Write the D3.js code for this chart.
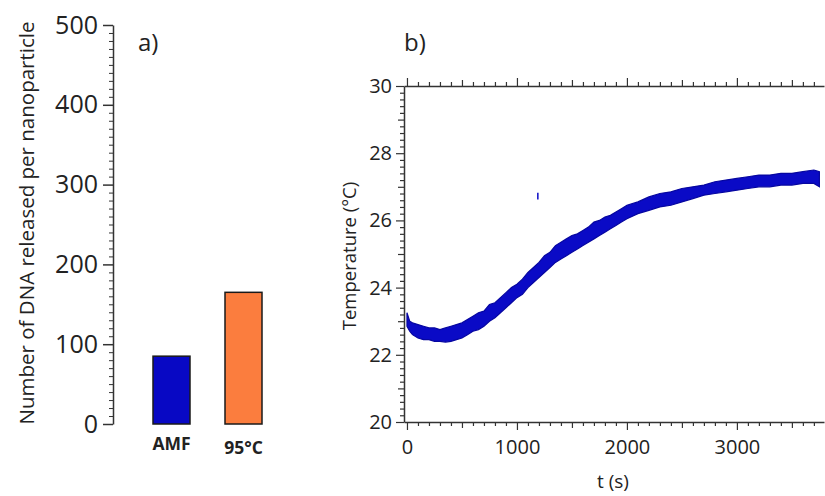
<!DOCTYPE html>
<html>
<head>
<meta charset="utf-8">
<script src="https://cdn.jsdelivr.net/npm/d3@7"></script>
<style>
  html, body { margin: 0; padding: 0; background: #fff; }
  svg { display: block; font-family: "Open Sans", "Noto Sans", sans-serif; }
</style>
</head>
<body>
<svg id="chart" width="825" height="496"></svg>
<script>
// ---- panel a: DNA released per nanoparticle ----
const barCategories = ["AMF", "95°C"];
const barValues = [85, 165];
const barColors = ["#0808c4", "#fb7d3e"];
const barTicks = [0, 100, 200, 300, 400, 500];

// ---- panel b: temperature trace (band readings, °C) ----
const timeS = [0, 25, 50, 100, 150, 200, 250, 300, 350, 400, 450, 500, 550, 600, 650, 700, 750, 800, 850, 900,
  950, 1000, 1050, 1100, 1150, 1200, 1250, 1300, 1350, 1400, 1450, 1500, 1550, 1600, 1650, 1700, 1750, 1800,
  1850, 1900, 1950, 2000, 2100, 2200, 2300, 2400, 2500, 2600, 2700, 2800, 2900, 3000, 3100, 3200, 3300, 3400,
  3500, 3600, 3700, 3750];
const tempLow = [22.85, 22.7, 22.6, 22.5, 22.45, 22.45, 22.4, 22.4, 22.38, 22.4, 22.45, 22.5, 22.6, 22.7, 22.75,
  22.85, 23.0, 23.1, 23.25, 23.4, 23.55, 23.7, 23.8, 24.0, 24.15, 24.3, 24.45, 24.6, 24.75, 24.85, 24.95, 25.05,
  25.15, 25.25, 25.35, 25.45, 25.55, 25.65, 25.75, 25.85, 25.95, 26.05, 26.2, 26.3, 26.4, 26.45, 26.55, 26.65,
  26.75, 26.8, 26.85, 26.9, 26.95, 27.0, 27.0, 27.05, 27.05, 27.1, 27.1, 27.0];
const tempHigh = [23.25, 23.0, 22.95, 22.9, 22.85, 22.8, 22.8, 22.75, 22.8, 22.85, 22.9, 22.95, 23.05, 23.15, 23.25,
  23.3, 23.5, 23.55, 23.7, 23.85, 24.0, 24.1, 24.25, 24.45, 24.6, 24.75, 24.95, 25.05, 25.25, 25.35, 25.45, 25.55,
  25.6, 25.7, 25.8, 25.95, 26.0, 26.1, 26.15, 26.25, 26.35, 26.45, 26.55, 26.7, 26.8, 26.85, 26.95, 27.0, 27.05,
  27.15, 27.2, 27.25, 27.3, 27.35, 27.35, 27.4, 27.4, 27.45, 27.5, 27.45];
const strayTime = [1190];
const strayLow = [26.62];
const strayHigh = [26.82];
const tempTicks = [20, 22, 24, 26, 28, 30];
const timeTicks = [0, 1000, 2000, 3000];

const svg = d3.select("#chart");
const ink = "#333";
const blue = "#0a0ac6";

// ---------- panel a ----------
const yA = d3.scaleLinear().domain([0, 500]).range([424, 25]);
const axisAx = 113;

const gA = svg.append("g");
// minor ticks every 10
gA.append("g").attr("transform", `translate(${axisAx},0)`)
  .call(d3.axisLeft(yA).tickValues(d3.range(0, 501, 10).filter(v => v % 100)).tickSize(4).tickFormat(""))
  .call(g => g.select(".domain").remove())
  .call(g => g.selectAll("line").attr("stroke", ink).attr("stroke-width", 1));
gA.append("g").attr("transform", `translate(${axisAx},0)`)
  .call(d3.axisLeft(yA).tickValues(barTicks).tickSize(10).tickPadding(5).tickSizeOuter(0))
  .call(g => g.select(".domain").attr("stroke", ink).attr("stroke-width", 1.5))
  .call(g => g.selectAll("line").attr("stroke", ink).attr("stroke-width", 1.5))
  .call(g => g.selectAll("text").attr("font-size", 25).attr("fill", "#222")
    .attr("font-family", "'Open Sans', sans-serif"));

const barW = 37;
const barX = [153, 225];
gA.selectAll("rect.bar").data(barValues).join("rect")
  .attr("class", "bar")
  .attr("x", (d, i) => barX[i])
  .attr("width", barW)
  .attr("y", d => yA(d))
  .attr("height", d => yA(0) - yA(d))
  .attr("fill", (d, i) => barColors[i])
  .attr("stroke", "#1a1a1a").attr("stroke-width", 1.5);

gA.selectAll("text.cat").data(barCategories).join("text")
  .attr("class", "cat")
  .attr("x", (d, i) => barX[i] + barW / 2)
  .attr("y", (d, i) => i === 0 ? 450 : 454)
  .attr("text-anchor", "middle")
  .attr("font-weight", "bold").attr("font-size", 17.5).attr("fill", "#222")
  .text(d => d);

svg.append("text")
  .attr("transform", "translate(34,223) rotate(-90)")
  .attr("text-anchor", "middle").attr("font-size", 20.5).attr("fill", "#222")
  .text("Number of DNA released per nanoparticle");

svg.append("text").attr("x", 138).attr("y", 51).attr("font-size", 24).attr("fill", "#222").text("a)");

// ---------- panel b ----------
const xB = d3.scaleLinear().domain([-27, 3792]).range([404, 824]);
const yB = d3.scaleLinear().domain([20, 30]).range([422, 86]);
const gB = svg.append("g");

const styleAxis = g => {
  g.select(".domain").attr("stroke", ink).attr("stroke-width", 1.5);
  g.selectAll("line").attr("stroke", ink).attr("stroke-width", 1.2);
};

const minorT = d3.range(100, 3800, 100).filter(v => v % 500);
const midT = d3.range(500, 3800, 500).filter(v => v % 1000);
[["bottom", yB(20), d3.axisBottom], ["top", yB(30), d3.axisTop]].forEach(([side, yPos, ax]) => {
  gB.append("g").attr("transform", `translate(0,${yPos})`)
    .call(ax(xB).tickValues(minorT).tickSize(4).tickFormat("").tickSizeOuter(0)).call(styleAxis);
  gB.append("g").attr("transform", `translate(0,${yPos})`)
    .call(ax(xB).tickValues(midT).tickSize(6).tickFormat("").tickSizeOuter(0))
    .call(g => g.select(".domain").remove()).call(styleAxis);
  const maj = gB.append("g").attr("transform", `translate(0,${yPos})`)
    .call(ax(xB).tickValues(timeTicks).tickSize(8).tickPadding(10).tickSizeOuter(0)
      .tickFormat(side === "bottom" ? d3.format("d") : ""))
    .call(g => g.select(".domain").remove()).call(styleAxis);
  maj.selectAll("text").attr("font-size", 20).attr("fill", "#222").attr("font-family", "'Open Sans', sans-serif");
});

const minorY = d3.range(20.2, 30, 0.2).map(v => +v.toFixed(1)).filter(v => Math.abs(v - Math.round(v)) > 1e-6);
const midY = [21, 23, 25, 27, 29];
gB.append("g").attr("transform", `translate(${xB.range()[0]},0)`)
  .call(d3.axisLeft(yB).tickValues(minorY).tickSize(4).tickFormat("").tickSizeOuter(0)).call(styleAxis);
gB.append("g").attr("transform", `translate(${xB.range()[0]},0)`)
  .call(d3.axisLeft(yB).tickValues(midY).tickSize(6).tickFormat("").tickSizeOuter(0))
  .call(g => g.select(".domain").remove()).call(styleAxis);
gB.append("g").attr("transform", `translate(${xB.range()[0]},0)`)
  .call(d3.axisLeft(yB).tickValues(tempTicks).tickSize(8).tickPadding(4).tickSizeOuter(0))
  .call(g => g.select(".domain").remove()).call(styleAxis)
  .call(g => g.selectAll("text").attr("font-size", 20).attr("fill", "#222")
    .attr("font-family", "'Open Sans', sans-serif"));

// temperature band
const rows = timeS.map((t, i) => ({ t, lo: tempLow[i], hi: tempHigh[i] }));
gB.append("path").datum(rows)
  .attr("d", d3.area().x(d => xB(d.t)).y0(d => yB(d.lo)).y1(d => yB(d.hi)))
  .attr("fill", blue).attr("stroke", "#0606a0").attr("stroke-width", 1.2);
gB.selectAll("line.stray").data(strayTime).join("line")
  .attr("class", "stray")
  .attr("x1", d => xB(d)).attr("x2", d => xB(d))
  .attr("y1", (d, i) => yB(strayLow[i])).attr("y2", (d, i) => yB(strayHigh[i]))
  .attr("stroke", blue).attr("stroke-width", 1.5);

svg.append("text")
  .attr("transform", "translate(356,256) rotate(-90)")
  .attr("text-anchor", "middle").attr("font-size", 18.5).attr("fill", "#222")
  .text("Temperature (°C)");
svg.append("text").attr("x", 613).attr("y", 488).attr("text-anchor", "middle")
  .attr("font-size", 19).attr("fill", "#222").text("t (s)");
svg.append("text").attr("x", 404).attr("y", 51).attr("font-size", 24).attr("fill", "#222").text("b)");
</script>
</body>
</html>
